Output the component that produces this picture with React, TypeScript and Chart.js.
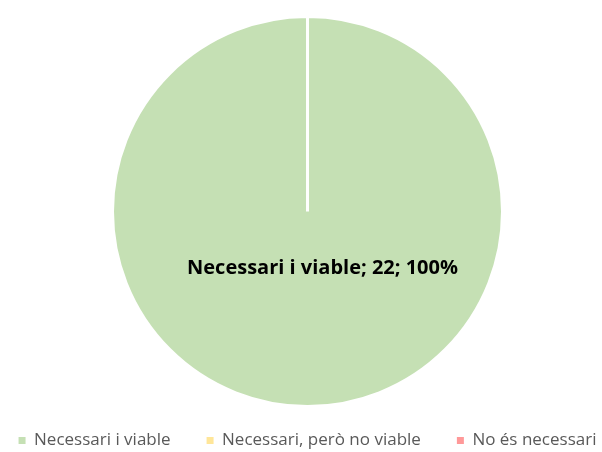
import React, { useEffect, useRef } from "react";
import { Chart, registerables } from "chart.js";

Chart.register(...registerables);

const categories = ["Necessari i viable", "Necessari, però no viable", "No és necessari"];
const counts = [22, 0, 0];
const percents = ["100%", "0%", "0%"];
const colors = ["#C5E0B4", "#FFE699", "#FF9999"];

const FONT = "'Open Sans', 'Noto Sans', sans-serif";

const dataLabelPlugin = {
  id: "dataLabelPlugin",
  afterDatasetsDraw(chart: any) {
    const meta = chart.getDatasetMeta(0);
    const ctx = chart.ctx;
    meta.data.forEach((arc: any, i: number) => {
      if (!counts[i]) return;
      const { x, y, outerRadius } = arc.getProps(["x", "y", "outerRadius"], true);
      ctx.save();
      ctx.font = `bold 20px ${FONT}`;
      ctx.fillStyle = "#000000";
      ctx.textAlign = "center";
      ctx.textBaseline = "middle";
      ctx.fillText(`${categories[i]}; ${counts[i]}; ${percents[i]}`, x + outerRadius * 0.077, y + outerRadius * 0.292);
      ctx.restore();
    });
  },
};

export default function App() {
  const ref = useRef<HTMLCanvasElement>(null);
  useEffect(() => {
    const baseGen = (Chart as any).overrides.pie.plugins.legend.labels.generateLabels;
    const chart = new Chart(ref.current!, {
      type: "pie",
      data: {
        labels: categories,
        datasets: [
          {
            data: counts,
            backgroundColor: colors,
            borderColor: "#FFFFFF",
            borderWidth: 3,
            radius: 195,
            clip: false,
          } as any,
        ],
      },
      options: {
        animation: false,
        responsive: false,
        layout: { padding: { top: 27, bottom: 0, left: 0, right: 0 } },
        plugins: {
          tooltip: { enabled: false },
          legend: {
            position: "bottom",
            labels: {
              boxWidth: 7,
              boxHeight: 7,
              padding: 36,
              color: "#595959",
              font: { family: FONT, size: 17 },
              generateLabels: (c: any) =>
                baseGen(c).map((it: any) => ({ ...it, lineWidth: 0, strokeStyle: "rgba(0,0,0,0)" })),
            },
          },
        },
      },
      plugins: [dataLabelPlugin],
    });
    return () => chart.destroy();
  }, []);
  return (
    <div
      style={{
        position: "fixed",
        left: 0,
        top: 0,
        width: 602,
        height: 452,
        overflow: "hidden",
        background: "#fff",
      }}
    >
      <canvas
        ref={ref}
        width={665}
        height={459}
        style={{ position: "absolute", left: -25, top: 0, width: 665, height: 459 }}
      />
    </div>
  );
}
